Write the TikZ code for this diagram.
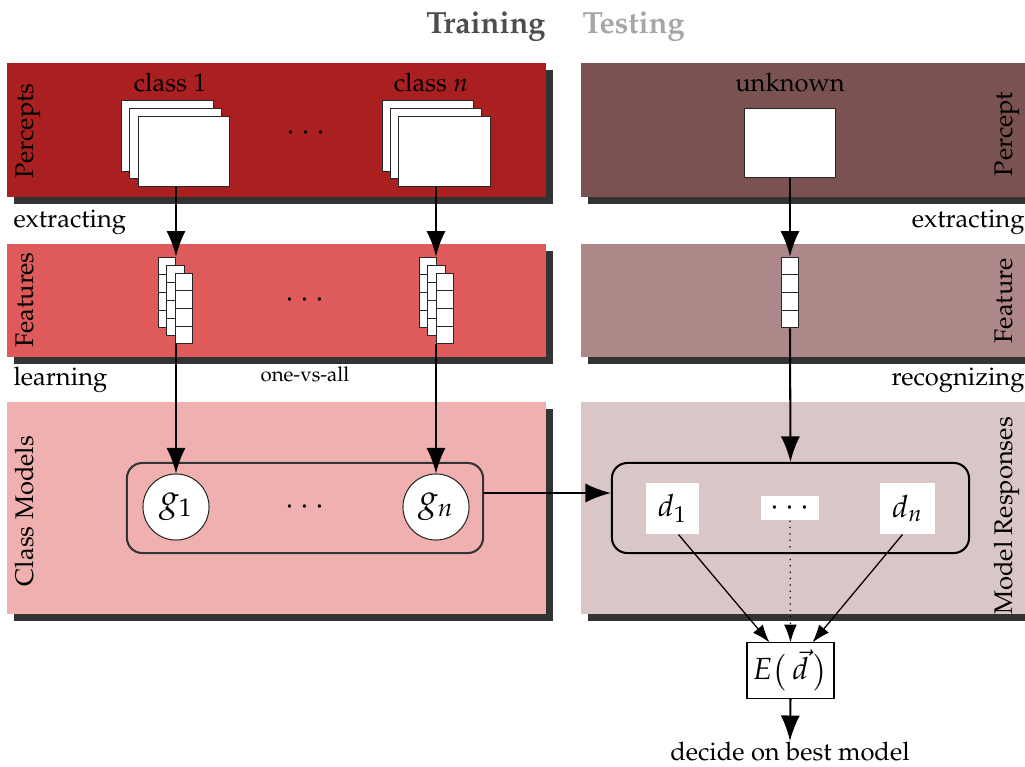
\documentclass[tikz,border=0pt]{standalone}
\usepackage[T1]{fontenc}
\usepackage{mathpazo}
\usetikzlibrary{arrows.meta,calc}
\definecolor{shadowc}{HTML}{333333}
\definecolor{percL}{HTML}{AA2020}
\definecolor{percR}{HTML}{7A5252}
\definecolor{featL}{HTML}{DF5A5A}
\definecolor{featR}{HTML}{AE8888}
\definecolor{clsL}{HTML}{F0B0B0}
\definecolor{clsR}{HTML}{D9C7C7}
\definecolor{trainc}{HTML}{4D4D4D}
\definecolor{testc}{HTML}{A6A6A6}
\tikzset{
  shadowbox/.style={fill=shadowc, draw=none},
  txt/.style={inner sep=0pt, font=\normalsize},
  dotsfont/.style={inner sep=0pt, font=\large},
  titlefont/.style={inner sep=0pt, font=\large\bfseries},
  imgbox/.style={draw=black!85, line width=0.4pt, fill=white, minimum width=35.8pt, minimum height=27.6pt, inner sep=0pt},
  fvec/.style={draw=black!85, line width=0.4pt, fill=white, minimum width=6.9pt, minimum height=27.8pt, inner sep=0pt,
    path picture={\foreach \k in {1,2,3}{\draw[line width=0.4pt, black!85] ($(path picture bounding box.north west)!\k/4!(path picture bounding box.south west)$) -- ($(path picture bounding box.north east)!\k/4!(path picture bounding box.south east)$);}}},
  circnode/.style={circle, draw=black!85, line width=0.4pt, fill=white, minimum size=25.9pt, inner sep=0pt, font=\Large},
  dbox/.style={fill=white, draw=none, minimum width=20.8pt, minimum height=20pt, inner sep=0pt, font=\large},
  groupbox/.style={rectangle, rounded corners=6pt, line width=0.8pt, minimum width=139.6pt, minimum height=35.3pt, inner sep=0pt},
  bigarrow/.style={line width=0.8pt, -{Latex[length=10pt,width=7.5pt]}},
  smallarrow/.style={line width=0.5pt, -{Latex[length=7pt,width=5pt]}},
}
\begin{document}
\begin{tikzpicture}[x=0.392pt,y=-0.392pt]
\useasboundingbox (0,0) rectangle (1025,767);
% bands with shadows
\fill[shadowbox] (14,70) rectangle (553,204);
\fill[percL] (7,63) rectangle (546,197);
\fill[shadowbox] (588,70) rectangle (1040,204);
\fill[percR] (581,63) rectangle (1035,197);
\fill[shadowbox] (14,251) rectangle (553,364);
\fill[featL] (7,244) rectangle (546,357);
\fill[shadowbox] (588,251) rectangle (1040,364);
\fill[featR] (581,244) rectangle (1035,357);
\fill[shadowbox] (14,409) rectangle (553,621);
\fill[clsL] (7,402) rectangle (546,614);
\fill[shadowbox] (588,409) rectangle (1040,621);
\fill[clsR] (581,402) rectangle (1035,614);

% titles
\node[titlefont, text=trainc, anchor=base east] (train) at (546,33) {Training};
\node[titlefont, text=testc, anchor=base west] (test) at (582,33) {Testing};

% band labels
\node[txt, rotate=90, anchor=base] (lPer) at (33,131) {Percepts};
\node[txt, rotate=90, anchor=base] (lFea) at (33,300) {Features};
\node[txt, rotate=90, anchor=base] (lCls) at (33,511) {Class Models};
\node[txt, rotate=90, anchor=base] (rPer) at (1012,134) {Percept};
\node[txt, rotate=90, anchor=base] (rFea) at (1012,301) {Feature};
\node[txt, rotate=90, anchor=base] (rMod) at (1012,516) {Model Responses};

% step labels
\node[txt, anchor=base west] (ext1) at (13,227) {extracting};
\node[txt, anchor=base west] (learn) at (13,385) {learning};
\node[txt, anchor=base, font=\footnotesize] (ova) at (305,381) {one-vs-all};
\node[txt, anchor=base east] (ext2) at (1025,227) {extracting};
\node[txt, anchor=base east] (recog) at (1025,385) {recognizing};

% percepts
\node[txt, anchor=base] (c1lab) at (170,91) {class 1};
\node[txt, anchor=base] (cnlab) at (431,91) {class $n$};
\node[txt, anchor=base] (unklab) at (790,91) {unknown};
\node[imgbox] (p1a) at (167.5,136) {};
\node[imgbox] (p1b) at (175.5,143.5) {};
\node[imgbox] (p1c) at (184,151.5) {};
\node[imgbox] (pna) at (428,136) {};
\node[imgbox] (pnb) at (436,143.5) {};
\node[imgbox] (pnc) at (444.5,151.5) {};
\node[imgbox, minimum width=35.3pt, minimum height=27.4pt] (unk) at (790,143) {};
\node[dotsfont] (pdots) at (306,133) {$\cdots$};

% features
\node[fvec] (f1a) at (167,292.5) {};
\node[fvec] (f1b) at (175.5,300.5) {};
\node[fvec] (f1c) at (184,308.5) {};
\node[fvec] (fna) at (428,292.5) {};
\node[fvec] (fnb) at (436.5,300.5) {};
\node[fvec] (fnc) at (445,308.5) {};
\node[fvec] (fu) at (790,292.5) {};
\node[dotsfont] (fdots) at (305,300) {$\cdots$};

% class models
\node[groupbox, draw=shadowc] (lbox) at (305,508) {};
\node[groupbox, draw=black, minimum width=140pt] (rbox) at (790.5,508) {};
\node[circnode] (g1) at (176,507) {$g_1$};
\node[circnode] (gn) at (436,507) {$g_n$};
\node[dotsfont] (gdots) at (305,507) {$\cdots$};
\node[dbox] (d1) at (672.5,508.5) {$d_1$};
\node[dbox, minimum width=21.6pt] (dn) at (907.5,508.5) {$d_n$};
\node[fill=white, minimum width=23.1pt, minimum height=9.4pt, inner sep=0pt, font=\large] (ddots) at (790,508) {$\cdots$};
\node[draw=black, line width=0.4pt, fill=white, minimum width=34.1pt, minimum height=21.6pt, inner sep=1pt, font=\large] (E) at (790.5,670.5) {$E\bigl(\,\vec{d}\,\bigr)$};
\node[txt, anchor=base] (dec) at (790,760) {decide on best model};

% connectors
\coordinate (ax1) at (176,0);
\coordinate (axn) at (436,0);
\coordinate (hy) at (0,493);
\draw[bigarrow] (p1c.south -| ax1) -- (f1a.north -| ax1);
\draw[bigarrow] (pnc.south -| axn) -- (fna.north -| axn);
\draw[bigarrow] (unk.south) -- (fu.north);
\draw[bigarrow] (f1c.south -| ax1) -- (g1.north);
\draw[bigarrow] (fnc.south -| axn) -- (gn.north);
\draw[bigarrow] (fu.south) -- (rbox.north);
\draw[bigarrow] (lbox.east |- hy) -- (rbox.west |- hy);
\draw[smallarrow] ($(d1.south)+(6,0)$) -- ($(E.north)+(-21,0)$);
\draw[smallarrow] ($(dn.south)+(-5,0)$) -- ($(E.north)+(22,0)$);
\draw[smallarrow, dotted] (ddots.south) -- (E.north);
\draw[bigarrow] (E.south) -- (dec.north);
\end{tikzpicture}
\end{document}
